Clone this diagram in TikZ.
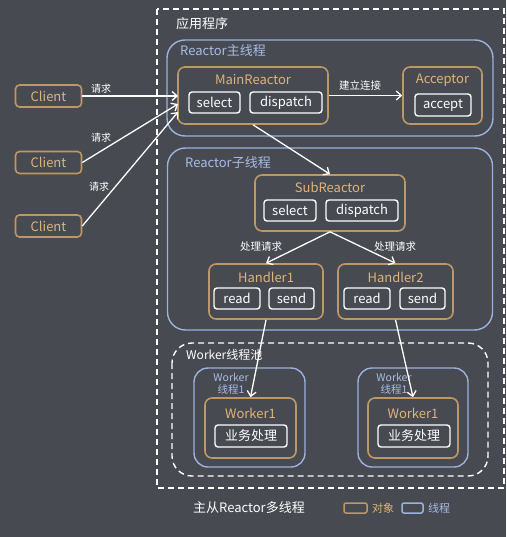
\documentclass[tikz,border=0pt]{standalone}
\usepackage{fontspec}
\setmainfont{Noto Sans CJK SC}
\usetikzlibrary{arrows.meta}
\definecolor{bg}{HTML}{474A51}
\definecolor{objc}{HTML}{BE9766}
\definecolor{objt}{HTML}{DDB47C}
\definecolor{thrc}{HTML}{9DB2DE}
\definecolor{thrt}{HTML}{A9BCE6}
\tikzset{
  obj/.style={draw=objc, line width=1.6pt, rounded corners=7pt},
  thr/.style={draw=thrc, line width=1.4pt, rounded corners=18pt},
  wbox/.style={draw=white, line width=1.4pt, rounded corners=3pt, text=white, inner sep=0pt, font=\fontsize{13}{13}\selectfont},
  ttl/.style={text=objt, inner sep=0pt, font=\fontsize{13}{13}\selectfont},
  lbl/.style={text=white, inner sep=0pt, font=\fontsize{10}{10}\selectfont},
  arr/.style={draw=white, line width=1.3pt, -{Straight Barb[length=5pt,width=9pt]}},
  dashbox/.style={draw=white, line width=1.4pt, dash pattern=on 6pt off 4pt}
}
\begin{document}
\begin{tikzpicture}[x=1pt,y=-1pt]
\fill[bg] (0,0) rectangle (506,537);
\useasboundingbox (0,0) rectangle (506,537);

% application frame
\draw[dashbox] (157,9) rectangle (504,488);
\node[anchor=west, text=white, inner sep=0pt, font=\fontsize{13}{13}\selectfont] (app) at (176,24) {应用程序};

% Reactor main thread
\node[thr, minimum width=326pt, minimum height=96pt] (mainthr) at (330,88) {};
\node[anchor=west, text=thrt, inner sep=0pt, font=\fontsize{13}{13}\selectfont] (mainthrl) at (180,51) {Reactor主线程};

\node[obj, minimum width=150pt, minimum height=57pt] (main) at (253,95.5) {};
\node[ttl] (maint) at (253,80) {MainReactor};
\node[wbox, minimum width=51pt, minimum height=21pt] (msel) at (214.5,102.5) {select};
\node[wbox, minimum width=72pt, minimum height=21pt] (mdis) at (286,102.5) {dispatch};

\node[obj, minimum width=79pt, minimum height=57pt] (acc) at (442.5,95.5) {};
\node[ttl] (acct) at (442.5,80) {Acceptor};
\node[wbox, minimum width=56pt, minimum height=22pt] (acca) at (443,105) {accept};

% clients
\node[obj, rounded corners=4pt, minimum width=66pt, minimum height=22pt, ttl] (c1) at (48.5,96) {Client};
\node[obj, rounded corners=4pt, minimum width=66pt, minimum height=22pt, ttl] (c2) at (48.5,162.5) {Client};
\node[obj, rounded corners=4pt, minimum width=66pt, minimum height=22pt, ttl] (c3) at (48.5,226) {Client};

\coordinate (p1) at (178,96);
\coordinate (p2) at (178,104);
\coordinate (p3) at (178,112);
\draw[arr] (c1.east) -- (p1);
\draw[arr] (c2.east) -- (p2);
\draw[arr] (c3.east) -- (p3);
\node[lbl] (l1) at (101,89) {请求};
\node[lbl] (l2) at (101,138) {请求};
\node[lbl] (l3) at (99,187) {请求};

\draw[arr] (main.east) -- (acc.west);
\node[lbl, font=\fontsize{10.5}{10.5}\selectfont] (l4) at (360,85) {建立连接};

% Reactor sub thread
\node[thr, minimum width=325pt, minimum height=182pt] (subthr) at (330,239) {};
\node[anchor=west, text=thrt, inner sep=0pt, font=\fontsize{13}{13}\selectfont] (subthrl) at (185,163) {Reactor子线程};

\node[obj, minimum width=150pt, minimum height=56pt] (sub) at (330,203) {};
\node[ttl] (subt) at (330,187) {SubReactor};
\node[wbox, minimum width=52pt, minimum height=21pt] (ssel) at (290,210.5) {select};
\node[wbox, minimum width=72pt, minimum height=21pt] (sdis) at (362,210.5) {dispatch};

\draw[arr] (main.south) -- (sub.north);

\node[obj, minimum width=114pt, minimum height=55pt] (h1) at (266,291.5) {};
\node[ttl] (h1t) at (266,277) {Handler1};
\node[wbox, minimum width=46pt, minimum height=21pt] (h1r) at (237,298.5) {read};
\node[wbox, minimum width=45pt, minimum height=21pt] (h1s) at (291.5,298.5) {send};

\node[obj, minimum width=115pt, minimum height=55pt] (h2) at (395.5,291.5) {};
\node[ttl] (h2t) at (395.5,277) {Handler2};
\node[wbox, minimum width=46pt, minimum height=21pt] (h2r) at (367,298.5) {read};
\node[wbox, minimum width=45pt, minimum height=21pt] (h2s) at (422.5,298.5) {send};

\draw[arr] (sub.south) -- (h1.north);
\draw[arr] (sub.south) -- (h2.north);
\node[lbl, font=\fontsize{10.5}{10.5}\selectfont] (l5) at (261,247) {处理请求};
\node[lbl, font=\fontsize{10.5}{10.5}\selectfont] (l6) at (395,247) {处理请求};

% worker pool
\draw[dashbox, rounded corners=20pt] (172,343) rectangle (488,476);
\node[anchor=west, text=white, inner sep=0pt, font=\fontsize{12}{12}\selectfont] (pool) at (186,355) {Worker线程池};

\node[thr, rounded corners=14pt, minimum width=111pt, minimum height=99pt] (wt1) at (249.5,417.5) {};
\node[thr, rounded corners=14pt, minimum width=110pt, minimum height=99pt] (wt2) at (413,417.5) {};
\node[text=thrt, inner sep=0pt, align=center, font=\fontsize{10.5}{12}\selectfont] (wt1l) at (231,384) {Worker\\线程1};
\node[text=thrt, inner sep=0pt, align=center, font=\fontsize{10.5}{12}\selectfont] (wt2l) at (394,384) {Worker\\线程1};

\node[obj, minimum width=91pt, minimum height=60pt] (w1) at (250.5,428) {};
\node[ttl] (w1t) at (250.5,413) {Worker1};
\node[wbox, minimum width=72pt, minimum height=22pt] (w1b) at (251,436) {业务处理};

\node[obj, minimum width=90pt, minimum height=60pt] (w2) at (413,428) {};
\node[ttl] (w2t) at (413,413) {Worker1};
\node[wbox, minimum width=72pt, minimum height=22pt] (w2b) at (414,436) {业务处理};

\draw[arr] (h1.south) -- (w1.north);
\draw[arr] (h2.south) -- (w2.north);

% footer and legend
\node[anchor=west, text=white, inner sep=0pt, font=\fontsize{13}{13}\selectfont] (foot) at (193,508) {主从Reactor多线程};
\node[draw=objc, line width=1.5pt, rounded corners=2pt, minimum width=23pt, minimum height=10pt, inner sep=0pt] (lg1) at (355.5,508) {};
\node[anchor=west, text=objt, inner sep=0pt, font=\fontsize{11}{11}\selectfont] (lg1t) at (372,508) {对象};
\node[draw=thrc, line width=1.5pt, rounded corners=2pt, minimum width=21pt, minimum height=10pt, inner sep=0pt] (lg2) at (412.5,508) {};
\node[anchor=west, text=thrt, inner sep=0pt, font=\fontsize{11}{11}\selectfont] (lg2t) at (428,508) {线程};
\end{tikzpicture}
\end{document}
